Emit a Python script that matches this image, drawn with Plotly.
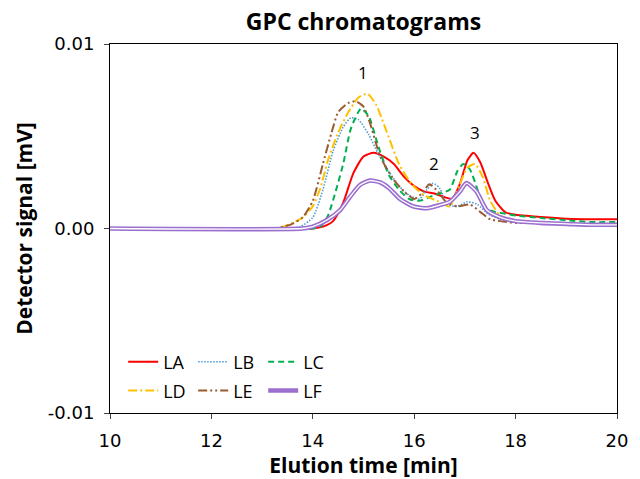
import plotly.graph_objects as go

# ---- data ----
t_LA = [10, 14.0, 14.2, 14.4, 14.6, 14.8, 15.0, 15.2, 15.4, 15.6, 15.8, 16.0, 16.2, 16.4, 16.6, 16.75,
        16.9, 17.05, 17.17, 17.3, 17.45, 17.6, 17.8, 18.0, 18.5, 19.0, 19.5, 20.0]
v_LA = [0, 0, 0.0001, 0.0004, 0.0014, 0.0030, 0.0039, 0.0041, 0.0039, 0.0035, 0.0028, 0.0023, 0.0020,
        0.0019, 0.0017, 0.0016, 0.0024, 0.0037, 0.0041, 0.0036, 0.0025, 0.0015, 0.00088, 0.00074,
        0.00062, 0.00053, 0.0005, 0.0005]

t_LB = [10, 13.5, 13.75, 14.0, 14.2, 14.4, 14.6, 14.75, 14.9, 15.1, 15.3, 15.5, 15.7, 15.9, 16.1, 16.25,
        16.37, 16.5, 16.65, 16.85, 17.05, 17.25, 17.45, 17.7, 18.0, 18.5, 19.0, 19.5, 20.0]
v_LB = [0, 0, 0.0001, 0.0006, 0.0021, 0.0042, 0.0055, 0.0060, 0.0059, 0.0051, 0.0040, 0.0031, 0.0023,
        0.0018, 0.0016, 0.0021, 0.00245, 0.0022, 0.0013, 0.0012, 0.00145, 0.0013, 0.0008, 0.0005,
        0.0004, 0.0003, 0.00025, 0.00025, 0.00025]

t_LC = [10, 14.0, 14.15, 14.3, 14.45, 14.6, 14.75, 14.95, 15.1, 15.3, 15.5, 15.7, 15.9, 16.1, 16.3,
        16.5, 16.7, 16.85, 16.97, 17.1, 17.25, 17.4, 17.6, 17.8, 18.0, 18.5, 19.0, 19.5, 20.0]
v_LC = [0, 0, 0.0001, 0.0007, 0.0020, 0.0035, 0.0054, 0.0065, 0.0061, 0.0044, 0.0029, 0.0021, 0.0016,
        0.0015, 0.0017, 0.0019, 0.0021, 0.0031, 0.0035, 0.0032, 0.0021, 0.0011, 0.0009, 0.0008,
        0.0007, 0.00057, 0.00045, 0.00035, 0.00035]

t_LD = [10, 13.3, 13.6, 13.8, 14.0, 14.15, 14.3, 14.5, 14.7, 14.9, 15.08, 15.25, 15.45, 15.7, 15.95,
        16.2, 16.45, 16.7, 16.9, 17.05, 17.2, 17.35, 17.5, 17.7, 18.0, 18.5, 19.0, 19.5, 20.0]
v_LD = [0, 0, 0.0003, 0.0006, 0.0012, 0.0022, 0.0037, 0.0052, 0.0063, 0.0071, 0.0073, 0.0067, 0.0053,
        0.0035, 0.0024, 0.0018, 0.0015, 0.0012, 0.0024, 0.0033, 0.0035, 0.0028, 0.0015, 0.0007,
        0.0004, 0.0003, 0.00025, 0.0002, 0.0002]

t_LE = [10, 13.2, 13.55, 13.8, 14.0, 14.2, 14.37, 14.5, 14.7, 14.85, 15.0, 15.13, 15.33, 15.58, 15.8,
        16.0, 16.15, 16.3, 16.47, 16.64, 16.85, 17.1, 17.3, 17.5, 17.7, 18.0, 18.5, 19.0, 19.5, 20.0]
v_LE = [0, 0, 0.0002, 0.0006, 0.0015, 0.0035, 0.0052, 0.0063, 0.0068, 0.0069, 0.0066, 0.0057, 0.0039,
        0.0027, 0.0020, 0.0016, 0.0019, 0.0024, 0.0020, 0.0014, 0.0012, 0.0013, 0.0009, 0.0005,
        0.0004, 0.0003, 0.0003, 0.00025, 0.00025, 0.00025]

t_LF = [10, 13.8, 14.0, 14.28, 14.54, 14.73, 14.93, 15.13, 15.33, 15.5, 15.72, 15.98, 16.25, 16.5,
        16.7, 16.9, 17.03, 17.23, 17.43, 17.7, 18.0, 18.5, 19.0, 19.5, 20.0]
v_LF = [0, 0, 0.0001, 0.00046, 0.0010, 0.0017, 0.00236, 0.0026, 0.0025, 0.0022, 0.0016, 0.0012, 0.0011,
        0.00127, 0.00144, 0.0020, 0.00246, 0.0020, 0.0010, 0.0006, 0.0004, 0.0003, 0.00025, 0.0002,
        0.0002]

peak_labels = ["1", "2", "3"]
peak_t = [14.99, 16.39, 17.2]
peak_v = [0.00843, 0.0035, 0.00518]

x_ticks = [10, 12, 14, 16, 18, 20]
y_ticks = [-0.01, 0.0, 0.01]
y_tick_text = ["-0.01", "0.00", "0.01"]

FONT = "Open Sans"
TICKFONT = "DejaVu Sans"

fig = go.Figure()

def add(t, v, name, color, width, dash, legend):
    fig.add_trace(go.Scatter(x=t, y=v, mode="lines", name=name, legend=legend,
                             line=dict(color=color, width=width, dash=dash,
                                       shape="spline", smoothing=0.6)))

add(t_LA, v_LA, "LA", "#FF0000", 2, "solid", "legend")
add(t_LB, v_LB, "LB", "#4F9BD9", 1.6, "1.5px,1.5px", "legend")
add(t_LC, v_LC, "LC", "#00B050", 2, "6px,4px", "legend")
add(t_LD, v_LD, "LD", "#FFC000", 2, "9px,3px,2px,3px", "legend2")
add(t_LE, v_LE, "LE", "#9C5B2E", 2, "9px,3px,2px,3px,2px,3px", "legend2")
add(t_LF, v_LF, "LF", "#9B6FCF", 4.5, "solid", "legend2")
fig.add_trace(go.Scatter(x=t_LF, y=v_LF, mode="lines", showlegend=False, hoverinfo="skip",
                         line=dict(color="white", width=1.3, shape="spline", smoothing=0.6)))

for lab, tx, ty in zip(peak_labels, peak_t, peak_v):
    fig.add_annotation(x=tx, y=ty, text=lab, showarrow=False,
                       font=dict(family=FONT, size=17, color="black"))

fig.update_layout(
    width=640, height=479,
    margin=dict(l=110, r=23, t=44, b=66),
    paper_bgcolor="white", plot_bgcolor="white",
    font=dict(family=FONT, color="black"),
    title=dict(text="<b>GPC chromatograms</b>", x=0.5, xref="paper", xanchor="center",
               y=1 - 22 / 479, yref="container", yanchor="middle",
               font=dict(family=FONT, size=23, color="black")),
    legend=dict(orientation="h", x=0.026, xanchor="left", y=0.138, yanchor="middle",
                entrywidth=25, font=dict(family=FONT, size=18, color="black"),
                bgcolor="rgba(0,0,0,0)", tracegroupgap=0, itemwidth=30),
    legend2=dict(orientation="h", x=0.026, xanchor="left", y=0.06, yanchor="middle",
                 entrywidth=25, font=dict(family=FONT, size=18, color="black"),
                 bgcolor="rgba(0,0,0,0)", tracegroupgap=0, itemwidth=30),
    showlegend=True,
)

fig.update_xaxes(range=[10, 20], tickvals=x_ticks, ticks="outside", ticklen=5,
                 showline=True, linecolor="black", linewidth=1, mirror=True,
                 showgrid=False, zeroline=False, automargin=False,
                 ticklabelstandoff=6,
                 tickfont=dict(family=TICKFONT, size=18, color="black"),
                 title=dict(text="<b>Elution time [min]</b>", standoff=4,
                            font=dict(family=FONT, size=21, color="black")))
fig.update_yaxes(range=[-0.01, 0.01], tickvals=y_ticks, ticktext=y_tick_text,
                 ticks="outside", ticklen=5,
                 showline=True, linecolor="black", linewidth=1, mirror=True,
                 showgrid=False, zeroline=False, automargin=False,
                 ticklabelstandoff=6,
                 tickfont=dict(family=TICKFONT, size=18, color="black"),
                 title=dict(text="<b>Detector signal [mV]</b>", standoff=9,
                            font=dict(family=FONT, size=21, color="black")))

fig.write_html("out.html", config={"displayModeBar": False},
               post_script="document.body.style.margin='0px';")
